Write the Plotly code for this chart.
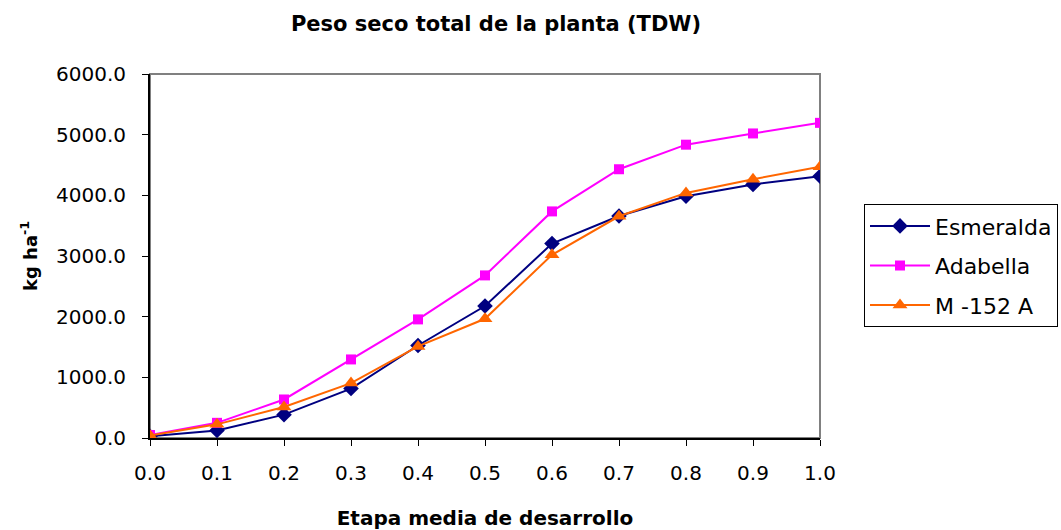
import plotly.graph_objects as go

x_vals = [0.0, 0.1, 0.2, 0.3, 0.4, 0.5, 0.6, 0.7, 0.8, 0.9, 1.0]
esmeralda = [30, 125, 385, 815, 1525, 2175, 3205, 3660, 3985, 4180, 4315]
adabella = [50, 250, 635, 1295, 1955, 2680, 3735, 4430, 4835, 5020, 5195]
m152a = [40, 225, 510, 905, 1510, 1965, 3020, 3655, 4040, 4265, 4470]

series_names = ["Esmeralda", "Adabella", "M -152 A"]
y_ticks = [0, 1000, 2000, 3000, 4000, 5000, 6000]
x_ticks = x_vals

FONT = "DejaVu Sans"

fig = go.Figure()
fig.add_trace(go.Scatter(x=x_vals, y=esmeralda, name=series_names[0], mode="lines+markers",
                         legendgroup="g1",
                         line=dict(color="#000080", width=2),
                         marker=dict(symbol="diamond", size=12, color="#000080")))
fig.add_trace(go.Scatter(x=x_vals, y=adabella, name=series_names[1], mode="lines+markers",
                         legendgroup="g2",
                         line=dict(color="#FF00FF", width=2),
                         marker=dict(symbol="square", size=10, color="#FF00FF")))
fig.add_trace(go.Scatter(x=x_vals, y=m152a, name=series_names[2], mode="lines+markers",
                         legendgroup="g3",
                         line=dict(color="#FF6600", width=2),
                         marker=dict(symbol="triangle-up", size=13, color="#FF6600")))

# gray plot-area border (top and right)
fig.add_shape(type="rect", xref="paper", yref="paper", x0=0, y0=0, x1=1, y1=1,
              line=dict(color="#808080", width=2), layer="below")

fig.update_layout(
    width=1061, height=530,
    margin=dict(l=150, r=241, t=74, b=92, autoexpand=False),
    paper_bgcolor="white", plot_bgcolor="white",
    font=dict(family=FONT, size=20, color="black"),
    title=dict(text="<b>Peso seco total de la planta (TDW)</b>", x=496/1061, xanchor="center",
               y=1-24/530, yanchor="middle", font=dict(size=21)),
    xaxis=dict(range=[0, 1], tickvals=x_ticks, tickformat=".1f", showgrid=False, zeroline=False,
               showline=True, linecolor="black", linewidth=2, ticks="outside", ticklen=6,
               tickcolor="black", tickwidth=1, ticklabelstandoff=10, automargin=False,
               title=dict(text="<b>Etapa media de desarrollo</b>", font=dict(size=20), standoff=28)),
    yaxis=dict(range=[0, 6000], tickvals=y_ticks, tickformat=".1f", showgrid=False, zeroline=False,
               showline=True, linecolor="black", linewidth=2, ticks="outside", ticklen=6,
               tickcolor="black", tickwidth=1, ticklabelstandoff=12, automargin=False,
               title=dict(text="<b>kg ha<sup>-1</sup></b>", font=dict(size=18), standoff=14)),
    legend=dict(x=(864-150)/670, xanchor="left", y=(437.7-204)/363.7, yanchor="top",
                bordercolor="black", borderwidth=1, bgcolor="white",
                font=dict(size=22), tracegroupgap=8, itemwidth=60),
    showlegend=True,
)
fig.write_html("out.html")
